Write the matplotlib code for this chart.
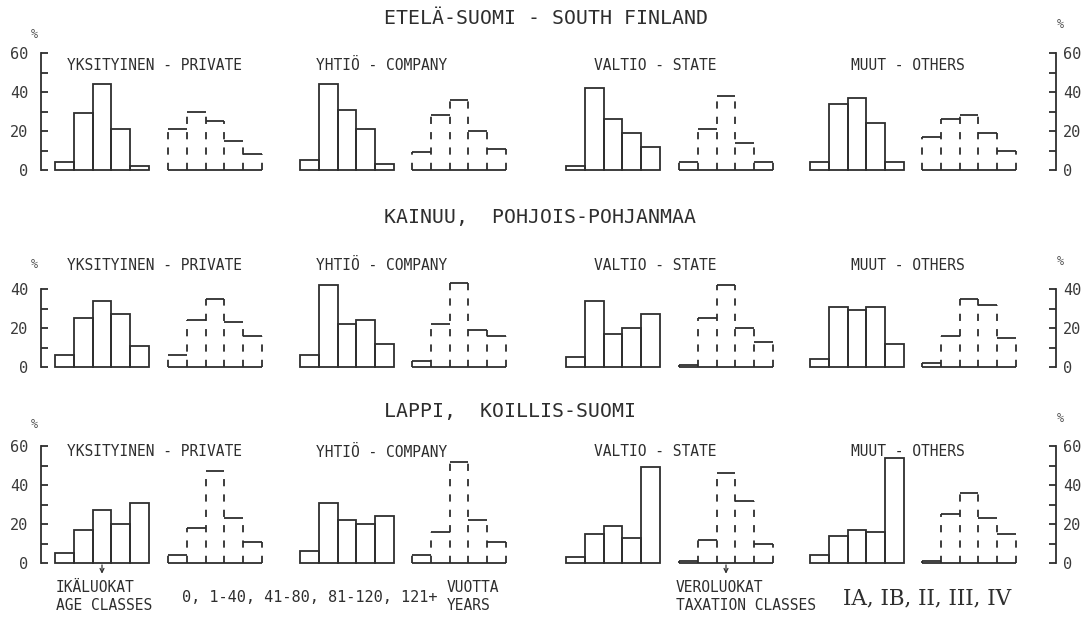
import matplotlib
matplotlib.use('Agg')
import matplotlib.pyplot as plt

# stand age classes (solid) and taxation classes (dashed), % of area
age_classes = ['0', '1-40', '41-80', '81-120', '121+']
tax_classes = ['IA', 'IB', 'II', 'III', 'IV']
owners = ['YKSITYINEN - PRIVATE', 'YHTIÖ - COMPANY', 'VALTIO - STATE', 'MUUT - OTHERS']
regions = ['ETELÄ-SUOMI - SOUTH FINLAND', 'KAINUU,  POHJOIS-POHJANMAA', 'LAPPI,  KOILLIS-SUOMI']

south_age = [[4, 29, 44, 21, 2], [5, 44, 31, 21, 3], [2, 42, 26, 19, 12], [4, 34, 37, 24, 4]]
south_tax = [[21, 30, 25, 15, 8], [9, 28, 36, 20, 11], [4, 21, 38, 14, 4], [17, 26, 28, 19, 10]]
kainuu_age = [[6, 25, 34, 27, 11], [6, 42, 22, 24, 12], [5, 34, 17, 20, 27], [4, 31, 29, 31, 12]]
kainuu_tax = [[6, 24, 35, 23, 16], [3, 22, 43, 19, 16], [1, 25, 42, 20, 13], [2, 16, 35, 32, 15]]
lappi_age = [[5, 17, 27, 20, 31], [6, 31, 22, 20, 24], [3, 15, 19, 13, 49], [4, 14, 17, 16, 54]]
lappi_tax = [[4, 18, 47, 23, 11], [4, 16, 52, 22, 11], [1, 12, 46, 32, 10], [1, 25, 36, 23, 15]]
row_ymax = [60, 40, 60]

W, H = 1090, 617
INK = '#2e2e2e'
plt.rcParams['font.family'] = ['DejaVu Sans Mono', 'DejaVu Sans']
plt.rcParams['text.color'] = INK


def fx(x):
    return x / W


def fy(y):
    return 1 - y / H


def solid_hist(ax, vals):
    ax.bar(range(len(vals)), vals, width=1, align='edge', fill=False,
           edgecolor=INK, linewidth=1.3, clip_on=False)


def dashed_hist(ax, vals):
    n = len(vals)
    ax.hlines(vals, range(n), range(1, n + 1), color=INK, lw=1.3, clip_on=False)
    ax.hlines(0, 0, n, color=INK, lw=1.3, clip_on=False)
    for i in range(n + 1):
        left = vals[i - 1] if i > 0 else 0
        right = vals[i] if i < n else 0
        ax.vlines(i, 0, max(left, right), color=INK, lw=1.3,
                  linestyles=(0, (4, 4.5)), clip_on=False)


fig = plt.figure(figsize=(W / 100, H / 100), dpi=100)

data = [(south_age, south_tax), (kainuu_age, kainuu_tax), (lappi_age, lappi_tax)]
baselines = [170, 367, 563]
px_per_unit = 1.95
lefts = [55, 168, 300, 412, 566, 679, 810, 922]
hist_w = 94
title_y = [18, 218, 412]
owner_y = [65, 265, 452]
owner_x = [67, 316, 594, 851]
pct_left_y = [34, 265, 425]
pct_right_y = [25, 262, 419]

hist_axes = []
for r, (ages, taxes) in enumerate(data):
    ymax = row_ymax[r]
    bottom = fy(baselines[r])
    height = ymax * px_per_unit / H

    # frame with left and right scales
    frame = fig.add_axes([fx(41), bottom, fx(1056 - 41), height])
    frame.set_ylim(0, ymax)
    frame.set_xticks([])
    for s in ['top', 'bottom', 'right']:
        frame.spines[s].set_visible(False)
    frame.spines['left'].set_color(INK)
    frame.spines['left'].set_linewidth(1.3)
    frame.set_yticks(range(0, ymax + 1, 20))
    frame.set_yticks(range(0, ymax + 1, 10), minor=True)
    frame.tick_params(axis='y', which='both', direction='in', length=5,
                      width=1.3, color=INK, labelsize=11, labelcolor='#3a3a3a', pad=9)
    frame.patch.set_visible(False)

    right = frame.twinx()
    right.set_ylim(0, ymax)
    right.set_xticks([])
    for s in ['top', 'bottom', 'left']:
        right.spines[s].set_visible(False)
    right.spines['right'].set_color(INK)
    right.spines['right'].set_linewidth(1.3)
    right.set_yticks(range(0, ymax + 1, 20))
    right.set_yticks(range(0, ymax + 1, 10), minor=True)
    right.tick_params(axis='y', which='both', direction='in', length=5,
                      width=1.3, color=INK, labelsize=11, labelcolor='#3a3a3a', pad=5)

    for g in range(len(owners)):
        for k, vals in enumerate([ages[g], taxes[g]]):
            ax = fig.add_axes([fx(lefts[2 * g + k]), bottom, fx(hist_w), height])
            ax.set_xlim(0, 5)
            ax.set_ylim(0, ymax)
            ax.axis('off')
            if k == 0:
                solid_hist(ax, vals)
            else:
                dashed_hist(ax, vals)
            hist_axes.append(ax)
        fig.text(fx(owner_x[g]), fy(owner_y[r]), owners[g], fontsize=10.5,
                 ha='left', va='center')

    fig.text(fx(384), fy(title_y[r]), regions[r], fontsize=14.3,
             ha='left', va='center')
    fig.text(fx(34), fy(pct_left_y[r]), '%', fontsize=8.5, ha='center',
             va='center', style='italic', color='#555555')
    fig.text(fx(1060), fy(pct_right_y[r]), '%', fontsize=8.5, ha='center',
             va='center', style='italic', color='#555555')

# arrows pointing to class axes in the bottom row
age_ax = hist_axes[16]
tax_ax = hist_axes[16 + 5]
for ax in (age_ax, tax_ax):
    ax.annotate('', xy=(2.5, -5.5), xytext=(2.5, -1), xycoords='data',
                arrowprops=dict(arrowstyle='->', color=INK, lw=0.9,
                                mutation_scale=7, shrinkA=0, shrinkB=0),
                annotation_clip=False)

fig.text(fx(56), fy(588), 'IKÄLUOKAT', fontsize=10.5, ha='left', va='center')
fig.text(fx(56), fy(606), 'AGE CLASSES', fontsize=10.5, ha='left', va='center')
fig.text(fx(182), fy(598), ', '.join(age_classes), fontsize=11,
         ha='left', va='center')
fig.text(fx(447), fy(588), 'VUOTTA', fontsize=10.5, ha='left', va='center')
fig.text(fx(447), fy(606), 'YEARS', fontsize=10.5, ha='left', va='center')
fig.text(fx(676), fy(588), 'VEROLUOKAT', fontsize=10.5, ha='left', va='center')
fig.text(fx(676), fy(606), 'TAXATION CLASSES', fontsize=10.5, ha='left', va='center')
fig.text(fx(843), fy(598), ', '.join(tax_classes), fontsize=15.5,
         ha='left', va='center', family='DejaVu Serif')

fig.savefig('out.png', dpi=100, facecolor='white')
